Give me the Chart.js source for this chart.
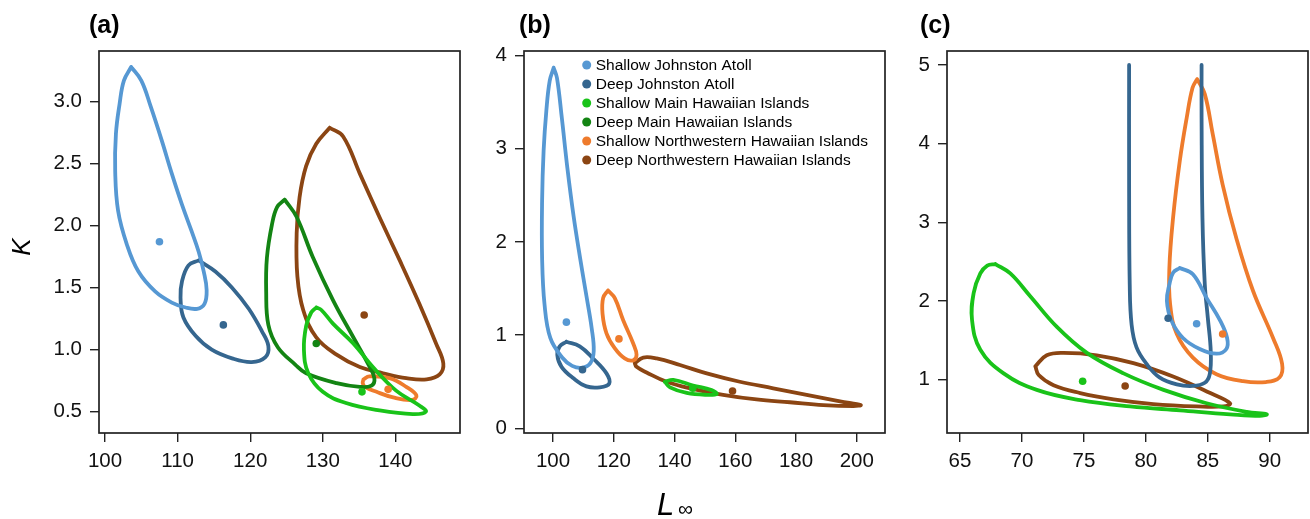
<!DOCTYPE html>
<html>
<head>
<meta charset="utf-8">
<script src="https://cdn.jsdelivr.net/npm/chart.js@4.4.1/dist/chart.umd.min.js"></script>
<style>
  html, body { margin: 0; padding: 0; background: #fff; }
  #wrap { position: relative; width: 1310px; height: 519px; overflow: hidden; }
  canvas { position: absolute; top: 0; }
</style>
</head>
<body>
<div id="wrap">
  <canvas id="panelA" width="480" height="519" style="left:0px"></canvas>
  <canvas id="panelB" width="420" height="519" style="left:480px"></canvas>
  <canvas id="panelC" width="410" height="519" style="left:900px"></canvas>
</div>
<script>
const FONT = '"Liberation Sans", Arial, Helvetica, sans-serif';

const SERIES = ['Shallow Johnston Atoll', 'Deep Johnston Atoll', 'Shallow Main Hawaiian Islands',
  'Deep Main Hawaiian Islands', 'Shallow Northwestern Hawaiian Islands', 'Deep Northwestern Hawaiian Islands'];
const COLORS = ['#5698d3', '#35668f', '#19c319', '#138413', '#ee7b2c', '#8b4513'];

// tick labels
const xTicksA = [100, 110, 120, 130, 140];
const yTicksA = [0.5, 1.0, 1.5, 2.0, 2.5, 3.0];
const xTicksB = [100, 120, 140, 160, 180, 200];
const yTicksB = [0, 1, 2, 3, 4];
const xTicksC = [65, 70, 75, 80, 85, 90];
const yTicksC = [1, 2, 3, 4, 5];

// panel (a): contours [L, K]
const aShallowJA = [[103.6,3.28],[105.0,3.17],[106.3,2.96],[107.8,2.69],[109.2,2.42],[110.6,2.17],[111.9,1.96],[112.9,1.79],
  [113.6,1.63],[114.0,1.48],[113.7,1.37],[112.7,1.33],[111.1,1.34],[109.2,1.38],[106.9,1.47],[104.6,1.63],[103.0,1.85],
  [101.8,2.12],[101.4,2.44],[101.5,2.74],[102.0,2.98],[102.6,3.17],[103.6,3.28]];
const aDeepJA = [[112.9,1.72],[115.2,1.63],[117.5,1.50],[119.8,1.33],[121.6,1.15],[122.5,1.03],[122.1,0.94],[120.2,0.90],
  [117.5,0.93],[114.7,1.00],[112.5,1.11],[110.8,1.26],[110.4,1.42],[110.6,1.55],[111.5,1.68],[112.9,1.72]];
const aShallowMHI = [[129.1,1.34],[129.8,1.32],[131.4,1.21],[134.2,1.05],[136.9,0.86],[140.1,0.67],[143.3,0.55],[144.2,0.50],
  [142.4,0.48],[137.8,0.51],[133.2,0.57],[130.0,0.66],[128.0,0.81],[127.4,1.00],[127.7,1.19],[128.4,1.30],[129.1,1.34]];
const aDeepMHI = [[124.75,2.21],[126.4,2.07],[128.6,1.75],[131.4,1.40],[134.2,1.10],[136.2,0.89],[137.1,0.77],[136.7,0.71],
  [135.1,0.70],[131.9,0.73],[127.7,0.81],[126.2,0.88],[123.8,1.02],[122.5,1.20],[122.2,1.47],[122.3,1.74],[123.0,2.01],
  [123.7,2.15],[124.75,2.21]];
const aShallowNWHI = [[135.6,0.76],[136.4,0.785],[139.2,0.77],[141.5,0.70],[142.9,0.63],[142.3,0.595],[139.7,0.615],
  [137.4,0.66],[135.8,0.70],[135.5,0.73],[135.6,0.76]];
const aDeepNWHI = [[130.95,2.79],[132.8,2.72],[135.1,2.42],[137.8,2.07],[140.6,1.72],[143.3,1.37],[145.6,1.05],[146.6,0.89],
  [146.1,0.80],[144.3,0.76],[141.5,0.77],[138.3,0.81],[135.1,0.86],[131.9,0.96],[129.1,1.10],[127.3,1.32],[126.5,1.59],
  [126.4,1.94],[126.8,2.23],[127.7,2.48],[129.1,2.66],[130.95,2.79]];
const aCenters = [[107.5,1.87],[116.3,1.20],[135.4,0.66],[129.1,1.05],[139.0,0.68],[135.7,1.28]];

// panel (b)
const bShallowJA = [[100.2,3.87],[101.3,3.76],[102.9,3.33],[104.7,2.80],[106.8,2.27],[108.9,1.83],[111.0,1.42],[112.7,1.08],
  [113.4,0.83],[112.3,0.70],[109.6,0.65],[106.3,0.67],[103.0,0.76],[99.1,0.97],[97.2,1.33],[96.4,1.83],[96.4,2.44],
  [96.9,2.98],[97.8,3.41],[98.9,3.73],[100.2,3.87]];
const bDeepJA = [[104.4,0.93],[108.8,0.88],[113.2,0.75],[117.6,0.59],[118.5,0.48],[115.4,0.44],[111.0,0.45],[106.6,0.54],
  [102.8,0.66],[101.4,0.79],[102.2,0.88],[104.4,0.93]];
const bShallowMHI = [[136.8,0.50],[139.6,0.52],[146.1,0.46],[152.2,0.41],[153.9,0.37],[150.6,0.36],[144.0,0.38],[138.5,0.44],
  [136.8,0.50]];
const bShallowNWHI = [[118.1,1.48],[120.3,1.40],[123.1,1.16],[126.4,0.91],[127.5,0.79],[126.4,0.73],[123.6,0.75],[120.3,0.86],
  [117.6,1.02],[116.3,1.23],[116.5,1.40],[118.1,1.48]];
const bDeepNWHI = [[126.9,0.70],[129.7,0.76],[134.1,0.75],[141.8,0.68],[150.6,0.59],[161.5,0.50],[172.5,0.43],[183.5,0.36],
  [194.5,0.29],[201.3,0.25],[198.9,0.24],[189.0,0.25],[178.0,0.28],[167.0,0.31],[156.0,0.36],[145.1,0.43],[137.4,0.50],
  [130.8,0.60],[127.5,0.66],[126.9,0.70]];
const bCenters = [[104.4,1.14],[109.7,0.63],[146.0,0.43],null,[121.7,0.96],[159.1,0.40]];

// panel (c)
const cShallowJA = [[82.74,2.42],[83.8,2.34],[84.9,2.04],[86.0,1.75],[86.56,1.53],[86.5,1.39],[85.7,1.33],[84.35,1.39],
  [83.0,1.53],[82.07,1.75],[81.7,2.0],[81.9,2.21],[82.2,2.36],[82.74,2.42]];
const cDeepJA = [[78.65,5.0],[78.65,3.48],[78.7,2.21],[78.85,1.70],[79.25,1.41],[80.06,1.20],[81.1,1.03],[82.5,0.94],
  [83.8,0.92],[84.76,0.96],[85.16,1.07],[85.24,1.36],[85.0,1.79],[84.76,2.21],[84.57,3.06],[84.5,4.33],[84.5,5.0]];
const cShallowMHI = [[67.85,2.47],[69.06,2.35],[70.67,2.06],[72.82,1.67],[75.24,1.34],[78.2,1.08],[81.43,0.87],[84.9,0.70],
  [88.15,0.59],[89.76,0.56],[89.2,0.54],[86.8,0.56],[82.77,0.61],[78.73,0.66],[74.7,0.74],[71.2,0.87],[68.52,1.08],
  [66.64,1.38],[65.97,1.76],[66.1,2.10],[66.64,2.35],[67.2,2.45],[67.85,2.47]];
const cShallowNWHI = [[84.14,4.82],[84.76,4.63],[85.4,4.12],[86.2,3.48],[87.3,2.80],[88.65,2.13],[90.27,1.53],[91.0,1.20],
  [90.8,1.03],[89.7,0.97],[87.85,0.98],[85.7,1.07],[83.8,1.28],[82.5,1.58],[81.96,1.96],[81.9,2.42],[82.2,3.06],
  [82.74,3.78],[83.3,4.33],[83.77,4.71],[84.14,4.82]];
const cDeepNWHI = [[71.08,1.17],[72.0,1.31],[73.36,1.34],[76.04,1.31],[79.0,1.21],[82.2,1.04],[85.2,0.83],[86.8,0.70],
  [86.27,0.66],[84.1,0.66],[80.6,0.69],[77.4,0.75],[74.7,0.83],[72.55,0.93],[71.35,1.06],[71.08,1.17]];
const cCenters = [[84.1,1.71],[81.8,1.78],[74.9,0.98],null,[86.2,1.58],[78.33,0.92]];

const toPts = arr => arr.map(([x, y]) => ({x, y}));

const buildDatasets = (contours, centers) => {
  const sets = [];
  contours.forEach((c, i) => {
    if (!c) return;
    sets.push({
      label: SERIES[i], data: toPts(c), showLine: true, fill: false,
      borderColor: COLORS[i], borderWidth: 3.8, borderJoinStyle: 'round', borderCapStyle: 'round',
      pointRadius: 0, tension: 0.4, order: 1
    });
  });
  centers.forEach((c, i) => {
    if (!c) return;
    sets.push({
      label: SERIES[i], data: toPts([c]), showLine: false,
      backgroundColor: COLORS[i], borderWidth: 0, pointRadius: 3.8, order: 0
    });
  });
  return sets;
}

const axis = (min, max, ticks, size, isY, fmt) => ({
  type: 'linear', min, max,
  afterBuildTicks: s => { s.ticks = ticks.map(v => ({value: v})); },
  afterFit: s => { if (isY) s.width = size; else s.height = size; },
  grid: { drawOnChartArea: false, tickLength: 9, tickColor: '#222', lineWidth: 1.4 },
  border: { display: false },
  ticks: {
    padding: isY ? 8 : 7, color: '#111', maxRotation: 0, autoSkip: false,
    font: { family: FONT, size: 20.5 }, callback: fmt || (v => String(v))
  }
});

const framePlugin = {
  id: 'frame',
  afterDraw(chart, args, opts) {
    const {ctx, chartArea: a} = chart;
    ctx.save();
    ctx.strokeStyle = '#222';
    ctx.lineWidth = 1.7;
    ctx.strokeRect(a.left, a.top, a.right - a.left, a.bottom - a.top);
    ctx.fillStyle = '#000';
    ctx.font = 'bold 25px ' + FONT;
    ctx.textBaseline = 'alphabetic';
    ctx.fillText(opts.tag, opts.tagX, 33);
    if (opts.extra) opts.extra(ctx);
    ctx.restore();
  }
};

const makeChart = (id, contours, centers, xr, yr, pad, frame) => new Chart(document.getElementById(id), {
  type: 'scatter',
  data: { datasets: buildDatasets(contours, centers) },
  options: {
    responsive: false, animation: false, events: [],
    layout: { padding: { top: 51, right: pad.right, left: 0, bottom: 0 }, autoPadding: false },
    plugins: { legend: { display: false }, tooltip: { enabled: false }, frame },
    scales: {
      x: axis(xr[0], xr[1], xr[2], 86, false),
      y: axis(yr[0], yr[1], yr[2], pad.yWidth, true, yr[3])
    }
  },
  plugins: [framePlugin]
});

makeChart('panelA',
  [aShallowJA, aDeepJA, aShallowMHI, aDeepMHI, aShallowNWHI, aDeepNWHI], aCenters,
  [99.17, 148.9, xTicksA], [0.328, 3.409, yTicksA, v => v.toFixed(1)],
  { right: 20, yWidth: 99 },
  { tag: '(a)', tagX: 89, extra: ctx => {
    ctx.translate(23, 247);
    ctx.rotate(-Math.PI / 2);
    ctx.font = 'italic 26px ' + FONT;
    ctx.textAlign = 'center';
    ctx.textBaseline = 'middle';
    ctx.fillText('K', 0, 0);
  }});

makeChart('panelB',
  [bShallowJA, bDeepJA, bShallowMHI, null, bShallowNWHI, bDeepNWHI], bCenters,
  [90.44, 209.3, xTicksB], [-0.05, 4.05, yTicksB],
  { right: 15, yWidth: 44 },
  { tag: '(b)', tagX: 39, extra: ctx => {
    ctx.font = 'italic 31px ' + FONT;
    ctx.fillText('L', 177, 515);
    ctx.font = '21px ' + FONT;
    ctx.fillText('\u221E', 198, 516);
    // legend
    ctx.font = '15.5px ' + FONT;
    ctx.textBaseline = 'middle';
    SERIES.forEach((name, i) => {
      const y = 65 + i * 19;
      ctx.fillStyle = COLORS[i];
      ctx.beginPath();
      ctx.arc(106.7, y, 4.5, 0, Math.PI * 2);
      ctx.fill();
      ctx.fillStyle = '#000';
      ctx.fillText(name, 115.7, y + 0.5);
    });
  }});

makeChart('panelC',
  [cShallowJA, cDeepJA, cShallowMHI, null, cShallowNWHI, cDeepNWHI], cCenters,
  [63.95, 93.09, xTicksC], [0.322, 5.178, yTicksC],
  { right: 2, yWidth: 47 },
  { tag: '(c)', tagX: 20 });
</script>
</body>
</html>
